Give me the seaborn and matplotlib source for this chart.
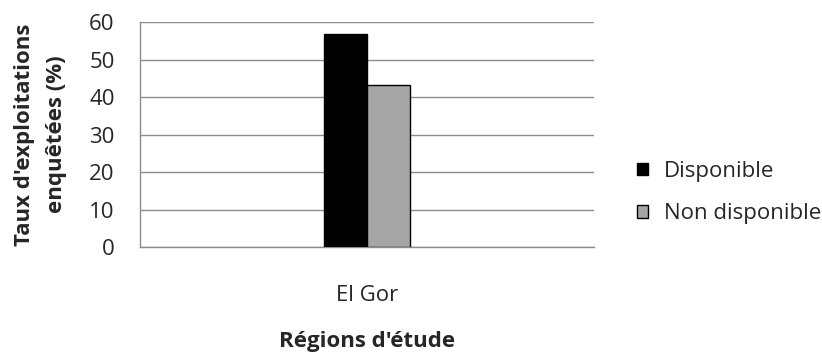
import matplotlib
matplotlib.use("Agg")
import matplotlib.pyplot as plt
import seaborn as sns
import pandas as pd

# Data
regions = ["El Gor", "El Gor"]
statuts = ["Disponible", "Non disponible"]
valeurs = [56.7, 43.3]
categories_order = ["", "El Gor", " "]
hue_order = ["Disponible", "Non disponible"]
couleurs = ["#000000", "#A6A6A6"]
yticks = [0, 10, 20, 30, 40, 50, 60]

df = pd.DataFrame({"Région": regions, "Statut": statuts, "Taux": valeurs})

sns.set_theme(style="white")
plt.rcParams["font.family"] = ["Open Sans", "DejaVu Sans"]

fig = plt.figure(figsize=(8.22, 3.56), dpi=100)
ax = fig.add_axes([0.170, 0.306, 0.5526, 0.632])

sns.barplot(data=df, x="Région", y="Taux", hue="Statut", order=categories_order,
            hue_order=hue_order, palette=couleurs, edgecolor="black", linewidth=1.0,
            width=0.57, ax=ax, zorder=3)

grid_c = "#8C8C8C"
ax.set_ylim(0, 60)
ax.set_yticks(yticks)
ax.yaxis.grid(True, color=grid_c, linewidth=1.0, zorder=0)
ax.set_axisbelow(True)
ax.set_xlim(-0.5, 2.5)
ax.set_xticks([-0.5, 0.5, 1.5, 2.5], minor=False)
ax.set_xticklabels([])
ax.set_xticks([0, 1, 2], minor=True)
ax.set_xticklabels(["", "El Gor", ""], minor=True)
ax.tick_params(axis="x", which="major", length=6, width=1, color=grid_c, direction="out")
ax.tick_params(axis="x", which="minor", length=0, pad=27, labelsize=16)
ax.tick_params(axis="y", length=6, width=1, color=grid_c, direction="out", labelsize=16, pad=12)

for s in ["top", "right"]:
    ax.spines[s].set_visible(False)
for s in ["left", "bottom"]:
    ax.spines[s].set_color(grid_c)
    ax.spines[s].set_linewidth(1.0)

ax.set_xlabel("Régions d'étude", fontsize=16, fontweight="bold")
ax.xaxis.set_label_coords(0.5, -0.375)
ax.set_ylabel("Taux d'exploitations\nenquêtées (%)", fontsize=16, fontweight="bold",
              linespacing=1.7)
ax.yaxis.set_label_coords(-0.16, 0.5)

sns.move_legend(ax, loc="center left", bbox_to_anchor=(637 / 822, 1 - 192.5 / 356),
                bbox_transform=fig.transFigure, frameon=False, title=None, fontsize=16,
                handlelength=0.5, handleheight=0.5, handletextpad=0.7,
                labelspacing=0.95, borderpad=0, borderaxespad=0)

fig.savefig("out.png", dpi=100)
